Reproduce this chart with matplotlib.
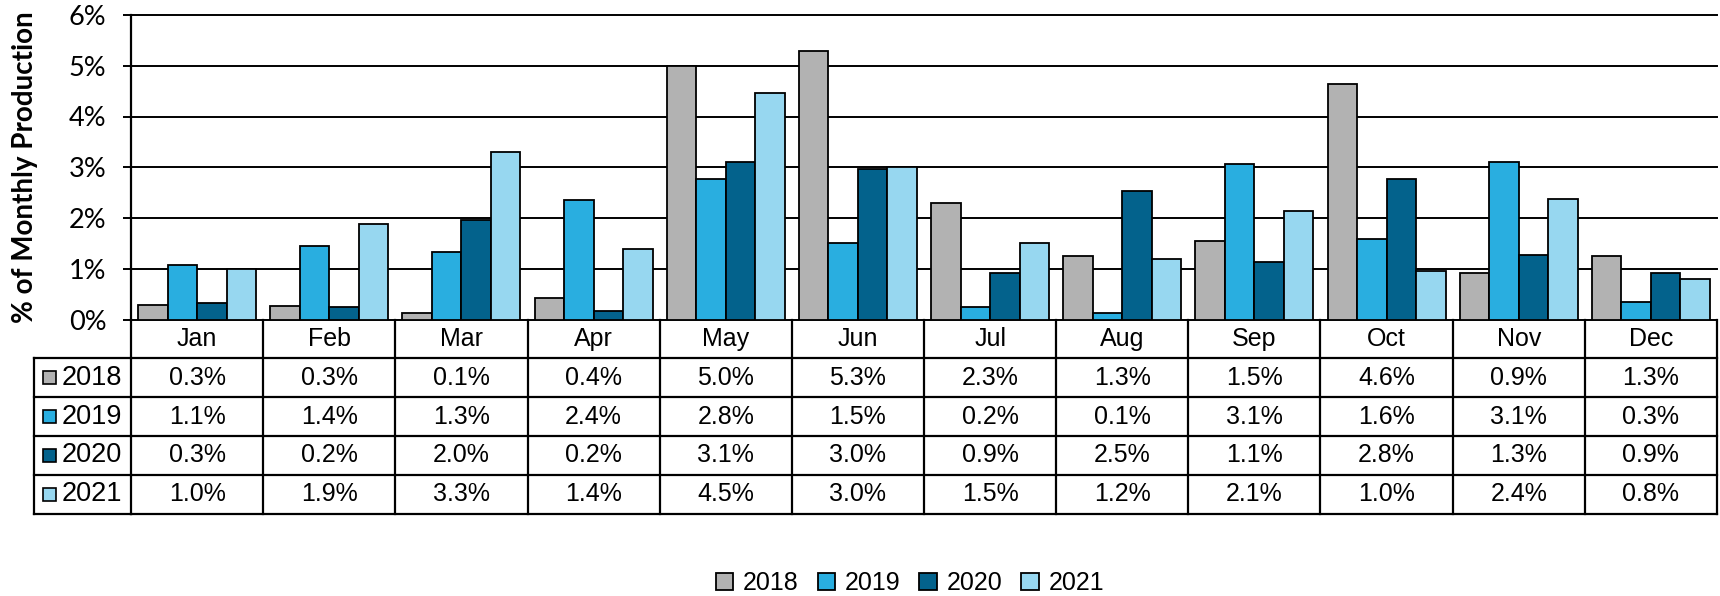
import matplotlib
matplotlib.use('Agg')
import matplotlib.pyplot as plt
from matplotlib.transforms import blended_transform_factory
from matplotlib.lines import Line2D
from matplotlib.patches import Rectangle
import numpy as np

plt.rcParams['font.family'] = ['Liberation Sans', 'DejaVu Sans']

months = ['Jan', 'Feb', 'Mar', 'Apr', 'May', 'Jun', 'Jul', 'Aug', 'Sep', 'Oct', 'Nov', 'Dec']
years = ['2018', '2019', '2020', '2021']
v2018 = [0.28, 0.26, 0.12, 0.42, 5.00, 5.30, 2.30, 1.26, 1.54, 4.64, 0.92, 1.26]
v2019 = [1.08, 1.44, 1.33, 2.36, 2.76, 1.50, 0.24, 0.12, 3.06, 1.58, 3.10, 0.34]
v2020 = [0.32, 0.24, 1.97, 0.16, 3.10, 2.97, 0.92, 2.54, 1.13, 2.76, 1.28, 0.91]
v2021 = [1.00, 1.88, 3.30, 1.38, 4.46, 3.00, 1.50, 1.20, 2.13, 0.96, 2.38, 0.79]
series = [v2018, v2019, v2020, v2021]
colors = ['#B2B2B2', '#29AEE0', '#03628C', '#97D7F0']
yticks = [0, 1, 2, 3, 4, 5, 6]

W, H = 1720, 596
fig = plt.figure(figsize=(W / 100, H / 100), dpi=100)
ax = fig.add_axes([131 / W, 1 - 319.5 / H, (1717 - 131) / W, (319.5 - 15) / H])

x = np.arange(len(months))
bw = 0.2235
bars = []
for i, (yr, vals, c) in enumerate(zip(years, series, colors)):
    b = ax.bar(x + (i - 1.5) * bw, vals, bw, color=c, edgecolor='black',
               linewidth=1.3, label=yr, zorder=3)
    bars.append(b)

ax.set_xlim(-0.5, len(months) - 0.5)
ax.set_ylim(0, 6)
ax.set_yticks(yticks)
ax.set_yticklabels([f'{t}%' for t in yticks], fontfamily=['Lato', 'DejaVu Sans'])
ax.yaxis.grid(True, color='black', linewidth=1.4)
for gl in ax.get_ygridlines():
    gl.set_clip_on(False)
ax.set_axisbelow(True)
for s in ['top', 'right', 'bottom']:
    ax.spines[s].set_visible(False)
ax.spines['left'].set_linewidth(1.6)
ax.tick_params(axis='y', length=8 * 0.72, width=1.4, pad=12, labelsize=19.5, colors='black')
ax.set_xticks([])

fig.text(25 / W, 1 - 167 / H, '% of Monthly Production', rotation=90, ha='center',
         va='center', fontsize=20, fontweight='bold', fontfamily=['Lato', 'DejaVu Sans'])

# ---- data table ----
trans = blended_transform_factory(ax.transData, fig.transFigure)
def fy(py):
    return 1 - py / H

row_edges = [319.5, 358.3, 397.1, 435.9, 474.7, 513.5]
lw = 1.6
x0, x1 = -0.5, len(months) - 0.5
for py in row_edges[1:]:
    fig.add_artist(Line2D([x0, x1], [fy(py), fy(py)], transform=trans, color='black', lw=lw))
for k in range(len(months) + 1):
    xx = k - 0.5
    fig.add_artist(Line2D([xx, xx], [fy(row_edges[0]), fy(row_edges[-1])], transform=trans,
                          color='black', lw=lw))
lx0 = 34 / W
lx1 = 131 / W
for py in row_edges[1:]:
    fig.add_artist(Line2D([lx0, lx1], [fy(py), fy(py)], transform=fig.transFigure, color='black', lw=lw))
fig.add_artist(Line2D([lx0, lx0], [fy(row_edges[1]), fy(row_edges[-1])], transform=fig.transFigure,
                      color='black', lw=lw))

hc = (row_edges[0] + row_edges[1]) / 2
for k, m in enumerate(months):
    fig.text(k, fy(hc), m, transform=trans, ha='center', va='center', fontsize=18)

for r, (yr, vals, c) in enumerate(zip(years, series, colors)):
    cy = (row_edges[r + 1] + row_edges[r + 2]) / 2
    for k, v in enumerate(vals):
        fig.text(k, fy(cy), f'{v:.1f}%', transform=trans, ha='center', va='center', fontsize=18)
    sq = 13
    fig.add_artist(Rectangle((43 / W, fy(cy + sq / 2)), sq / W, sq / H, transform=fig.transFigure,
                             facecolor=c, edgecolor='black', lw=1.2))
    fig.text(62 / W, fy(cy), yr, ha='left', va='center', fontsize=19.5)

leg = fig.legend(handles=bars, labels=years, loc='center', bbox_to_anchor=(910 / W, fy(583)),
                 bbox_transform=fig.transFigure, ncol=4, frameon=False, fontsize=18,
                 handlelength=0.7, handleheight=0.7, handletextpad=0.4, columnspacing=0.75)
for p in leg.get_patches():
    p.set_linewidth(1.3)

fig.savefig('out.png', dpi=100)
